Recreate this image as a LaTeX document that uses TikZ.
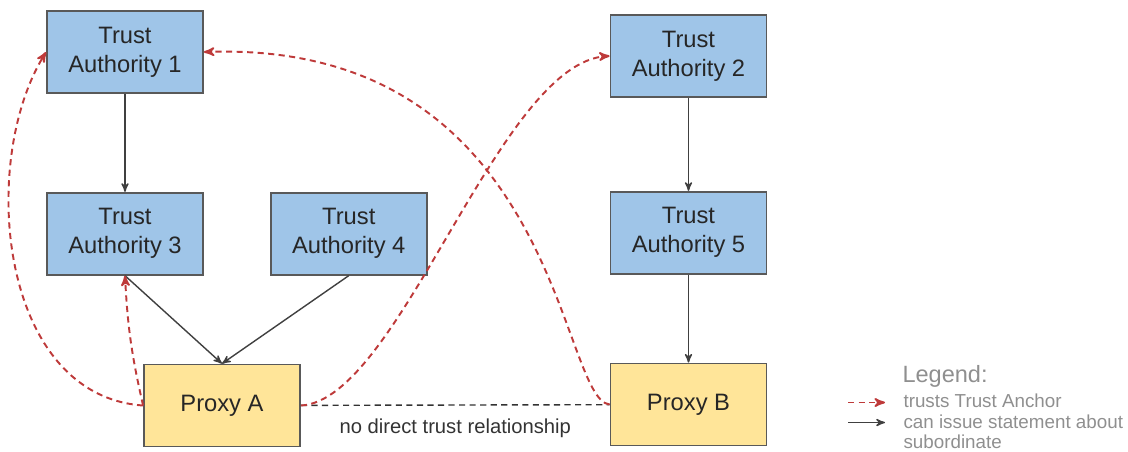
\documentclass[tikz,border=0pt]{standalone}
\usepackage{fontspec}
\setmainfont{Liberation Sans}
\usepackage{tikz}
\usetikzlibrary{arrows,positioning}

\definecolor{taBlue}{HTML}{9FC5E8}
\definecolor{proxyYellow}{HTML}{FFE599}
\definecolor{boxEdge}{HTML}{595959}
\definecolor{trustRed}{HTML}{BE3A3A}
\definecolor{legendGray}{HTML}{8F8F8F}

\begin{document}
\begin{tikzpicture}[->,>=stealth',semithick,node distance=1.76cm,
  authority/.style={draw=boxEdge,line width=1pt,fill=taBlue,minimum width=3.12cm,minimum height=1.64cm,
    align=center,text=black!85,font=\fontsize{13.5}{16.5}\selectfont},
  proxy/.style={authority,fill=proxyYellow},
  issues/.style={->,draw=black!75,line width=0.8pt},
  trusts/.style={->,draw=trustRed,line width=1.1pt,dash pattern=on 3.5pt off 2.5pt},
  nolink/.style={-,draw=black!80,line width=0.8pt,dash pattern=on 3.5pt off 2.5pt},
  legendtext/.style={anchor=base west,inner sep=0pt,text=legendGray,align=left}]
%\tikzstyle{every node}=[font=\small]
  \useasboundingbox (0,0) rectangle (22.56,-9.02);

  \node[authority] (TA1) at (2.50,-1.04)              {Trust\\Authority 1};
  \node[authority] (TA3) [below=1.96cm of TA1]        {Trust\\Authority 3};
  \node[authority] (TA4) [right=1.32cm of TA3]        {Trust\\Authority 4};
  \node[proxy]     (PA)  [below=of TA3,xshift=1.94cm] {Proxy A};
  \node[authority] (TA2) at (13.77,-1.12)             {Trust\\Authority 2};
  \node[authority] (TA5) [below=1.86cm of TA2]        {Trust\\Authority 5};
  \node[proxy]     (PB)  [below=of TA5]               {Proxy B};

  % subordinate statements
  \path (TA1) edge[issues] (TA3)
        (TA3.south) edge[issues] (PA.north)
        (TA4.south) edge[issues] (PA.north)
        (TA2) edge[issues] (TA5)
        (TA5) edge[issues] (PB);

  \path (PA) edge[nolink] node[below=4.2pt,text=black!80,font=\fontsize{11.5}{13}\selectfont]
          {no direct trust relationship} (PB);

  % trust anchors
  \path (PA.west) edge[trusts,out=176,in=238,out distance=2.9cm,in distance=2.55cm] (TA1.west)
                  edge[trusts,bend left=5] (TA3.south)
        (PA.east) edge[trusts,out=3,in=183,out distance=1.98cm,in distance=2.22cm] (TA2.west)
        (PB.west) edge[trusts,out=174,in=2,out distance=1.02cm,in distance=7.1cm] (TA1.east);

  % legend
  \node[legendtext,font=\fontsize{13.4}{16}\selectfont] (legend) at (18.04,-7.64) {Legend:};
  \coordinate (keyA1) at (16.96,-8.05);
  \coordinate (keyA2) at (17.70,-8.05);
  \coordinate (keyB1) at (16.96,-8.45);
  \coordinate (keyB2) at (17.70,-8.45);
  \draw[trusts] (keyA1) -- (keyA2);
  \draw[issues] (keyB1) -- (keyB2);
  \node[legendtext,font=\fontsize{10.7}{11.4}\selectfont] (keyAtext) at (18.06,-8.14) {trusts Trust Anchor};
  \node[legendtext,font=\fontsize{10.7}{11.4}\selectfont] (keyBtext) at (18.06,-8.97) {can issue statement about\\subordinate};
\end{tikzpicture}
\end{document}
